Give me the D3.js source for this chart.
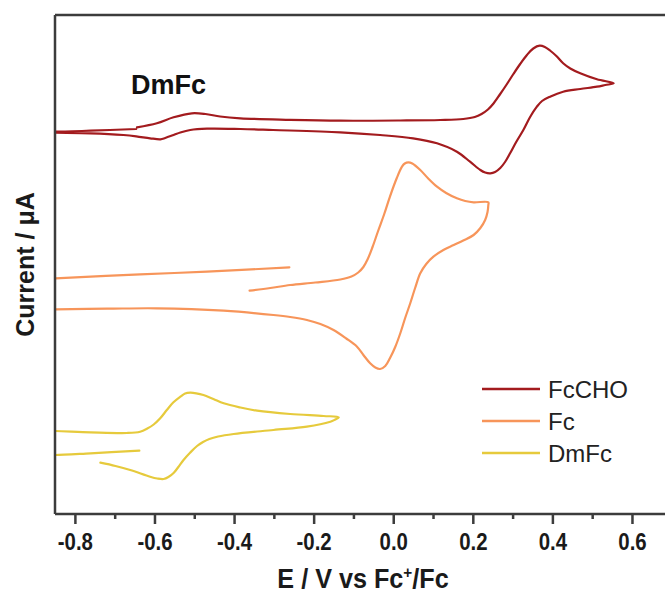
<!DOCTYPE html>
<html><head><meta charset="utf-8">
<script src="https://cdn.jsdelivr.net/npm/d3@7/dist/d3.min.js"></script>
<style>
html,body{margin:0;padding:0;background:#fff;}
svg{display:block;}
</style></head>
<body>
<svg id="chart" width="665" height="594"></svg>
<script>
// ---- data (E in V vs Fc+/Fc, current in arbitrary µA, offset stacked) ----
const seriesNames = ["FcCHO", "Fc", "DmFc"];
const seriesColors = ["#a31b1e", "#f7955a", "#e6ca3c"];

const fcchoE = [-0.644,-0.594,-0.552,-0.506,-0.472,-0.435,-0.384,-0.259,-0.133,0.018,0.118,0.176,0.205,0.222,0.238,0.252,0.268,0.285,0.302,0.319,0.336,0.352,0.368,0.381,0.394,0.410,0.427,0.445,0.470,0.512,0.554,
  0.533,0.512,0.470,0.427,0.394,0.374,0.361,0.344,0.327,0.309,0.294,0.281,0.269,0.256,0.244,0.231,0.219,0.193,0.160,0.110,0.050,-0.033,-0.133,-0.302,-0.384,-0.468,-0.510,-0.535,-0.552,-0.573,-0.585,-0.611,-0.646,-0.678,-0.761,-0.849,-0.862,
  -0.862,-0.849,-0.761,-0.646];
const fcchoI = [38.67,39.07,39.67,40.07,40.0,39.75,39.57,39.42,39.33,39.35,39.4,39.5,39.7,40.0,40.45,41.05,41.95,42.95,44.0,45.0,45.9,46.55,46.83,46.7,46.35,45.8,45.07,44.55,44.07,43.47,43.07,
  42.9,42.73,42.5,42.23,41.73,41.3,40.73,39.7,38.4,37.2,36.1,35.2,34.6,34.2,34.07,34.15,34.4,35.23,36.23,37.07,37.57,37.9,38.17,38.4,38.5,38.53,38.4,38.15,37.9,37.6,37.47,37.57,37.77,37.9,38.07,38.13,38.15,
  38.25,38.23,38.33,38.5];

const fcE = [-0.361,-0.309,-0.259,-0.196,-0.133,-0.105,-0.088,-0.075,-0.064,-0.052,-0.038,-0.023,-0.008,0.009,0.022,0.029,0.038,0.048,0.068,0.088,0.110,0.133,0.160,0.181,0.202,0.239,
  0.239,0.237,0.231,0.219,0.202,0.176,0.152,0.126,0.101,0.083,0.068,0.055,0.043,0.030,0.018,0.005,-0.008,-0.020,-0.033,-0.045,-0.058,-0.075,-0.091,-0.118,-0.150,-0.183,-0.217,-0.259,-0.301,-0.426,-0.594,-0.719,-0.849,-0.867,
  -0.867,-0.849,-0.636,-0.468,-0.261];
const fcI = [22.33,22.6,22.9,23.15,23.45,23.75,24.15,24.7,25.5,26.7,28.3,29.95,31.77,33.6,34.73,35.05,35.17,35.05,34.4,33.55,32.73,32.1,31.57,31.3,31.17,31.17,
  30.9,30.2,29.4,28.6,27.9,27.35,26.9,26.4,25.73,25.0,24.07,22.6,21.1,19.6,18.1,16.7,15.6,14.8,14.5,14.65,15.07,15.9,16.73,17.55,18.4,19.0,19.4,19.7,19.9,20.33,20.57,20.53,20.47,20.45,
  23.55,23.57,23.97,24.23,24.67];

const dmfcE = [-0.638,-0.761,-0.849,-0.867,
  -0.867,-0.849,-0.761,-0.669,-0.636,-0.618,-0.602,-0.585,-0.569,-0.553,-0.535,-0.523,-0.510,-0.495,-0.477,-0.452,-0.426,-0.384,-0.342,-0.259,-0.175,-0.137,
  -0.148,-0.158,-0.217,-0.301,-0.401,-0.440,-0.462,-0.478,-0.493,-0.510,-0.527,-0.540,-0.552,-0.565,-0.577,-0.593,-0.611,-0.661,-0.698,-0.736];
const dmfcI = [6.33,6.07,5.9,5.9,
  8.3,8.3,8.17,8.1,8.23,8.55,8.95,9.6,10.4,11.15,11.73,12.05,12.13,12.07,11.9,11.5,11.07,10.65,10.33,10.0,9.8,9.67,
  9.4,9.23,8.73,8.4,8.0,7.75,7.5,7.2,6.8,6.15,5.4,4.7,4.1,3.7,3.5,3.55,3.73,4.4,4.8,5.13];

const xMajorTicks = [-0.8,-0.6,-0.4,-0.2,0.0,0.2,0.4,0.6];
const xMinorTicks = [-0.7,-0.5,-0.3,-0.1,0.1,0.3,0.5];
const xDomain = [-0.85, 0.683];
const yDomain = [0, 49.9];

// ---- layout ----
const svg = d3.select("#chart");
const L = 55, R = 665, T = 15, B = 514;
const x = d3.scaleLinear().domain(xDomain).range([L, R]);
const y = d3.scaleLinear().domain(yDomain).range([B, T]);
const axisColor = "#3c3c3c";

svg.append("defs").append("clipPath").attr("id","clip")
  .append("rect").attr("x",L).attr("y",T).attr("width",R-L).attr("height",B-T);

const toPts = (E,I)=>E.map((e,i)=>[e,I[i]]);
const allData = [toPts(fcchoE,fcchoI), toPts(fcE,fcI), toPts(dmfcE,dmfcI)];

const line = d3.line().x(d=>x(d[0])).y(d=>y(d[1])).curve(d3.curveCatmullRom.alpha(0.5));
const g = svg.append("g").attr("clip-path","url(#clip)");
allData.forEach((pts,i)=>{
  g.append("path").attr("d", line(pts)).attr("fill","none")
    .attr("stroke", seriesColors[i]).attr("stroke-width",2.2)
    .attr("stroke-linejoin","round").attr("stroke-linecap","round");
});

// frame: top and left lines
svg.append("line").attr("x1",L).attr("x2",R).attr("y1",T).attr("y2",T)
  .attr("stroke",axisColor).attr("stroke-width",2.5);
svg.append("line").attr("x1",L).attr("x2",L).attr("y1",T).attr("y2",B)
  .attr("stroke",axisColor).attr("stroke-width",2.5);

// x axis
const fmt = v => d3.format(".1f")(v).replace("−","-");
const xAxis = d3.axisBottom(x).tickValues(xMajorTicks).tickSize(10).tickPadding(9).tickFormat(fmt);
const ax = svg.append("g").attr("transform",`translate(0,${B})`).call(xAxis);
ax.select(".domain").attr("stroke",axisColor).attr("stroke-width",2.5).attr("d",`M${L},0H${R}`);
ax.selectAll(".tick line").attr("stroke",axisColor).attr("stroke-width",2.5);
ax.selectAll(".tick text").attr("fill","#1a1a1a")
  .attr("transform","scale(0.85,1)")
  .style("font-family","'Liberation Sans', Arial, sans-serif")
  .style("font-weight","bold").style("font-size","24px");
const axMinor = svg.append("g").attr("transform",`translate(0,${B})`)
  .call(d3.axisBottom(x).tickValues(xMinorTicks).tickSize(5).tickFormat(""));
axMinor.select(".domain").remove();
axMinor.selectAll(".tick line").attr("stroke",axisColor).attr("stroke-width",2.5);

// axis titles
const xt = svg.append("g").attr("transform",`translate(${(L+R)/2+3},588) scale(0.9,1)`)
  .append("text").attr("x",0).attr("y",0).attr("text-anchor","middle")
  .style("font-family","'Liberation Sans', Arial, sans-serif")
  .style("font-weight","bold").style("font-size","28px").attr("fill","#1a1a1a");
xt.append("tspan").text("E / V vs Fc");
xt.append("tspan").text("+").attr("dy",-10).style("font-size","17px");
xt.append("tspan").text("/Fc").attr("dy",10);

svg.append("text").attr("transform",`translate(34,${(T+B)/2}) rotate(-90)`).attr("text-anchor","middle")
  .style("font-family","'Liberation Sans', Arial, sans-serif")
  .style("font-weight","bold").style("font-size","25px").attr("fill","#1a1a1a")
  .text("Current / μA");

// panel label
svg.append("text").attr("x",131).attr("y",94)
  .style("font-family","'Liberation Sans', Arial, sans-serif")
  .style("font-weight","bold").style("font-size","27px").attr("fill","#111")
  .text("DmFc");

// legend
const legY = [389, 421, 453];
seriesNames.forEach((n,i)=>{
  svg.append("line").attr("x1",482).attr("x2",540).attr("y1",legY[i]).attr("y2",legY[i])
    .attr("stroke",seriesColors[i]).attr("stroke-width",2.5);
  svg.append("text").attr("x",548).attr("y",legY[i]+8.5)
    .style("font-family","'Liberation Sans', Arial, sans-serif")
    .style("font-size","24px").attr("fill","#222").text(n);
});
</script>
</body></html>
